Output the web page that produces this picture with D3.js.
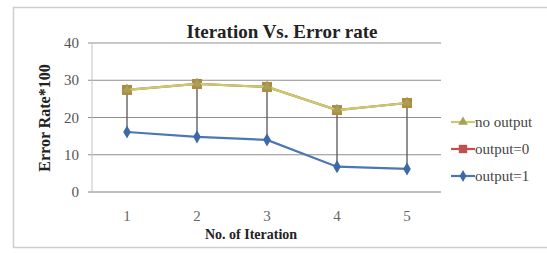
<!DOCTYPE html>
<html>
<head>
<meta charset="utf-8">
<script src="https://cdn.jsdelivr.net/npm/d3@7"></script>
<style>
  body { margin: 0; background: #fff; }
  svg text { font-family: "Liberation Serif", "DejaVu Serif", serif; }
</style>
</head>
<body>
<svg id="chart" width="547" height="253"></svg>
<script>
const width = 547;
const height = 253;

const iterations = ["1", "2", "3", "4", "5"];
const noOutput = [27.4, 29.0, 28.2, 22.0, 23.9];
const output0 = [27.4, 29.0, 28.2, 22.0, 23.9];
const output1 = [16.1, 14.8, 14.0, 6.8, 6.2];
const yTicks = [0, 10, 20, 30, 40];

const svg = d3.select("#chart");

// outer frame
svg.append("rect")
    .attr("x", 13.5).attr("y", 7.5)
    .attr("width", 540).attr("height", 240)
    .attr("fill", "#fff")
    .attr("stroke", "#cfcfcf")
    .attr("stroke-width", 1.5);

const x = d3.scaleBand()
    .domain(iterations)
    .range([92, 442]);

const y = d3.scaleLinear()
    .domain([0, 40])
    .range([192, 43]);

const cx = d => x(d) + x.bandwidth() / 2;

// gridlines
svg.append("g")
    .selectAll("line")
    .data(yTicks)
    .enter()
    .append("line")
    .attr("x1", 88).attr("x2", 441)
    .attr("y1", d => y(d)).attr("y2", d => y(d))
    .attr("stroke", d => d === 0 ? "#aaa" : "#8f8f8f")
    .attr("stroke-width", d => d === 0 ? 1.5 : 1);

// left axis line
svg.append("line")
    .attr("x1", 92).attr("x2", 92)
    .attr("y1", y(40)).attr("y2", y(0))
    .attr("stroke", "#c4c4c4");

// y tick labels
svg.append("g")
    .selectAll("text")
    .data(yTicks)
    .enter()
    .append("text")
    .attr("x", 79)
    .attr("y", d => y(d) + 5)
    .attr("text-anchor", "end")
    .attr("font-size", 15)
    .attr("fill", "#555")
    .text(d => d);

// x tick labels
svg.append("g")
    .selectAll("text")
    .data(iterations)
    .enter()
    .append("text")
    .attr("x", d => cx(d))
    .attr("y", 221)
    .attr("text-anchor", "middle")
    .attr("font-size", 15)
    .attr("fill", "#666")
    .text(d => d);

// high-low lines
svg.append("g")
    .selectAll("line")
    .data(iterations)
    .enter()
    .append("line")
    .attr("x1", d => cx(d)).attr("x2", d => cx(d))
    .attr("y1", (d, i) => y(Math.max(noOutput[i], output0[i], output1[i])))
    .attr("y2", (d, i) => y(Math.min(noOutput[i], output0[i], output1[i])))
    .attr("stroke", "#555")
    .attr("stroke-width", 1.3);

const line = d3.line()
    .x((d, i) => cx(iterations[i]))
    .y(d => y(d));

function drawSeries(values, color, marker) {
    svg.append("path")
        .datum(values)
        .attr("d", line)
        .attr("fill", "none")
        .attr("stroke", color)
        .attr("stroke-width", 2.2);
    const sym = d3.symbol().type(marker.type).size(marker.size);
    svg.append("g")
        .selectAll("path")
        .data(values)
        .enter()
        .append("path")
        .attr("transform", (d, i) => `translate(${cx(iterations[i])},${y(d)})`)
        .attr("d", sym)
        .attr("fill", marker.fill)
        .attr("stroke", marker.stroke || "none");
}

drawSeries(output1, "#4a78b4", { type: d3.symbolDiamond, size: 50, fill: "#3d6aa6" });
drawSeries(output0, "#c0504d", { type: d3.symbolSquare, size: 100, fill: "#b0893e" });
drawSeries(noOutput, "#c8cc6e", { type: d3.symbolTriangle, size: 40, fill: "#a8a05a", stroke: "#a8954a" });

// title
svg.append("text")
    .attr("x", 282).attr("y", 38)
    .attr("text-anchor", "middle")
    .attr("font-size", 19)
    .attr("font-weight", "bold")
    .attr("fill", "#222")
    .text("Iteration Vs. Error rate");

// axis titles
svg.append("text")
    .attr("transform", "translate(50,118) rotate(-90)")
    .attr("text-anchor", "middle")
    .attr("font-size", 16)
    .attr("font-weight", "bold")
    .attr("fill", "#222")
    .text("Error Rate*100");

svg.append("text")
    .attr("x", 251).attr("y", 239)
    .attr("text-anchor", "middle")
    .attr("font-size", 14)
    .attr("font-weight", "bold")
    .attr("fill", "#222")
    .text("No. of Iteration");

// legend
const legendNames = ["no output", "output=0", "output=1"];
const legendColors = ["#c8cc6e", "#c0504d", "#4a78b4"];
const legendMarkerFill = ["#a8a05a", "#c0504d", "#3d6aa6"];
const legendMarkers = [d3.symbolTriangle, d3.symbolSquare, d3.symbolDiamond];
const legend = svg.append("g")
    .selectAll("g")
    .data(legendNames)
    .enter()
    .append("g")
    .attr("transform", (d, i) => `translate(451,${122 + i * 27})`);

legend.append("line")
    .attr("x1", 0).attr("x2", 24)
    .attr("stroke", (d, i) => legendColors[i])
    .attr("stroke-width", 2.2);
legend.append("path")
    .attr("transform", "translate(12,0)")
    .attr("d", (d, i) => d3.symbol().type(legendMarkers[i]).size(i === 1 ? 70 : 40)())
    .attr("fill", (d, i) => legendMarkerFill[i]);
legend.append("text")
    .attr("x", 24).attr("y", 5)
    .attr("font-size", 15)
    .attr("fill", "#444")
    .text(d => d);
</script>
</body>
</html>
